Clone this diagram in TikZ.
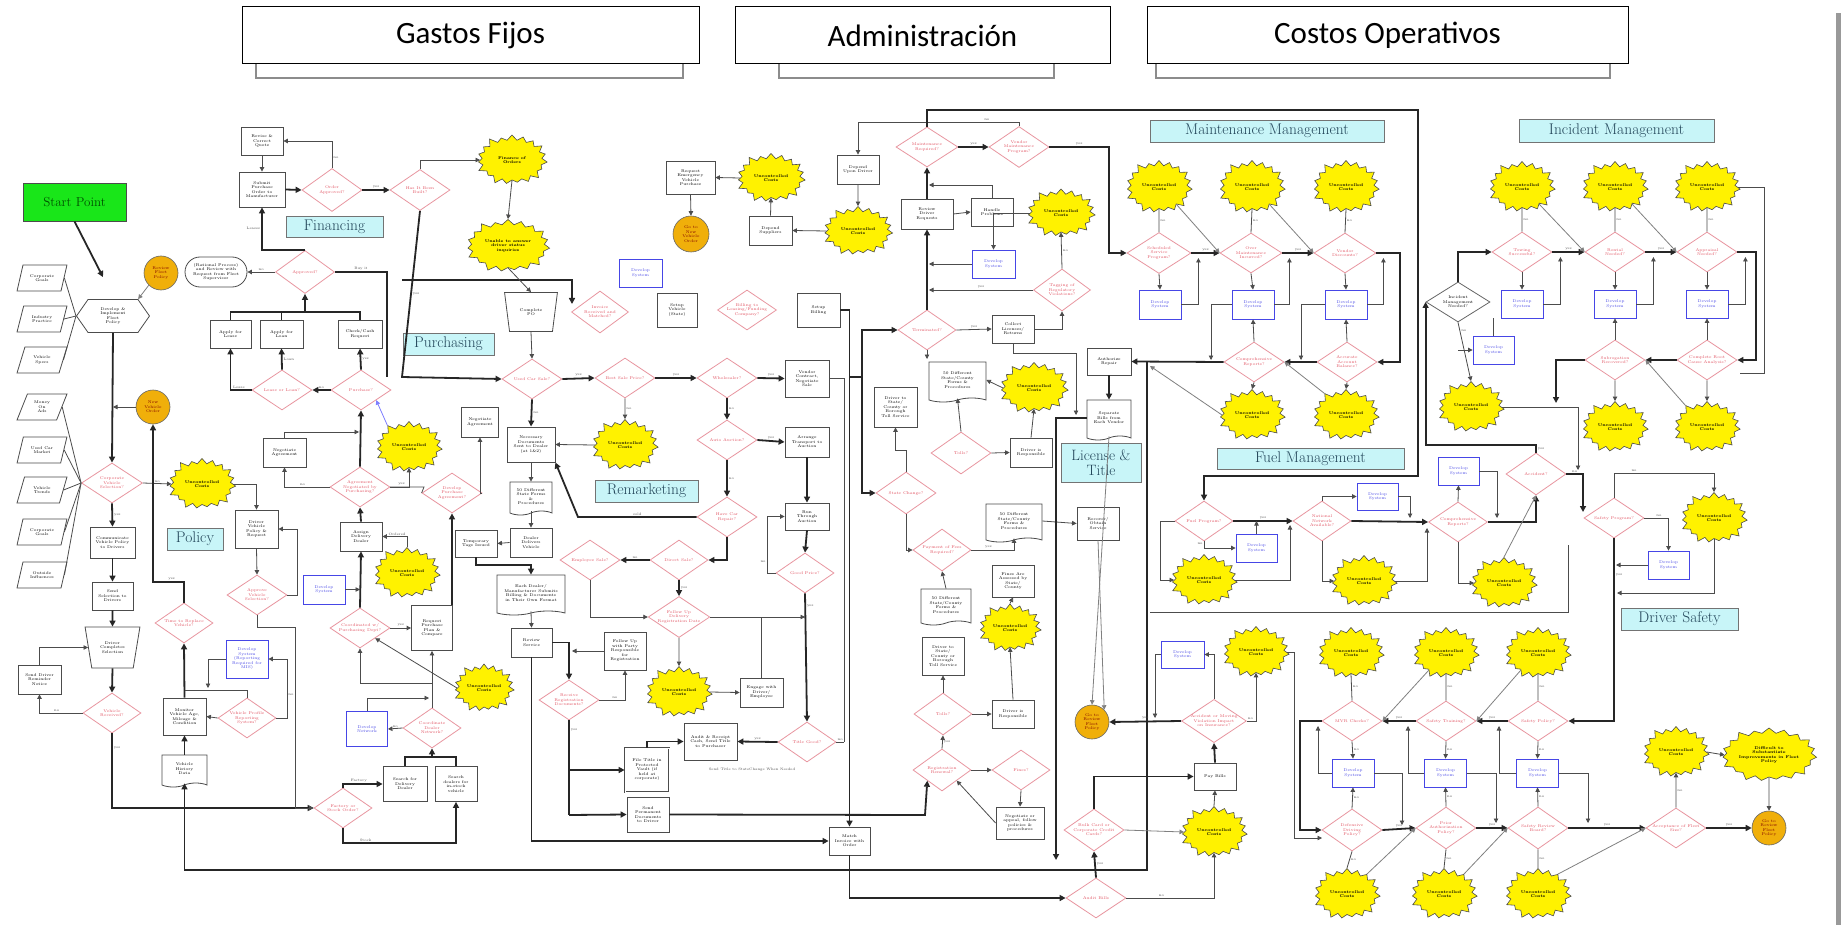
\documentclass[tikz,border=0pt]{standalone}
\usepackage{fontspec}
\newfontfamily\hdrfont{Carlito}
\usetikzlibrary{shapes.geometric,shapes.symbols,shapes.misc,arrows.meta,calc}
\definecolor{pinkline}{RGB}{232,150,160}
\definecolor{pinktext}{RGB}{225,80,95}
\definecolor{starfill}{RGB}{255,242,0}
\definecolor{orng}{RGB}{240,175,10}
\definecolor{cyanlab}{RGB}{200,245,248}
\definecolor{labtext}{RGB}{35,70,90}
\definecolor{bluebox}{RGB}{70,70,230}
\definecolor{startgreen}{RGB}{25,230,25}
\definecolor{starttext}{RGB}{0,80,0}
\tikzset{
  tf/.style={font=\fontsize{4}{4.5}\selectfont, align=center, inner sep=0.5pt},
  bx/.style 2 args={tf, rectangle, draw=black!70, line width=0.8pt, fill=white, minimum width=#1pt, minimum height=#2pt},
  bb/.style 2 args={tf, rectangle, draw=bluebox, text=bluebox, line width=0.8pt, fill=white, minimum width=#1pt, minimum height=#2pt},
  dm/.style 2 args={tf, diamond, aspect=1.5, draw=pinkline, text=pinktext, line width=0.8pt, fill=white, minimum width=#1pt, minimum height=#2pt, inner sep=0pt},
  st/.style 2 args={font=\fontsize{4}{4.5}\selectfont\bfseries, align=center, starburst, starburst points=19, starburst point height=7pt, fill=starfill, draw=black!70, line width=0.6pt, minimum width=#1pt, minimum height=#2pt, inner sep=0pt},
  oc/.style={tf, circle, fill=orng, draw=black!60, text=red!50!black, line width=0.6pt, minimum size=34pt},
  lab/.style 2 args={rectangle, fill=cyanlab, draw=black!55, line width=0.9pt, text=labtext, inner sep=0pt, font=\fontsize{15.5}{16}\selectfont, align=center, minimum width=#1pt, minimum height=#2pt},
  pg/.style={tf, trapezium, trapezium left angle=65, trapezium right angle=115, trapezium stretches=true, draw=black!70, line width=0.8pt, fill=white, minimum width=50pt, minimum height=26pt},
  dc/.style 2 args={tf, tape, tape bend top=none, tape bend height=4pt, draw=black!70, line width=0.8pt, fill=white, minimum width=#1pt, minimum height=#2pt},
  tz/.style 2 args={tf, trapezium, shape border rotate=180, trapezium stretches=true, trapezium left angle=72, trapezium right angle=72, draw=black!70, line width=0.8pt, fill=white, minimum width=#1pt, minimum height=#2pt},
  tk/.style={draw=black!85, line width=1.8pt, -{Triangle[length=6pt,width=6pt]}},
  tn/.style={draw=black!70, line width=0.8pt, -{Triangle[length=4.5pt,width=4.5pt]}},
  gl/.style={draw=black!50, line width=0.8pt, -{Triangle[length=4.5pt,width=4.5pt]}},
  ln/.style={draw=black!70, line width=0.8pt},
  tl/.style={draw=black!85, line width=1.8pt},
  lb/.style={font=\fontsize{3.5}{4}\selectfont, text=black!70, inner sep=1pt},
  hd/.style={draw=black, line width=1pt, fill=white, font=\hdrfont\fontsize{31}{33}\selectfont, minimum height=57pt},
}
\begin{document}
\begin{tikzpicture}[x=1pt,y=-1pt]
\useasboundingbox (0,0) rectangle (1847,925);
\fill[white] (0,0) rectangle (1847,925);
\fill[black!40] (1836,13) rectangle (1841,925);
% ---------- headers
\draw[black!45, line width=1.2pt] (256,50) rectangle (683,78);
\draw[black!45, line width=1.2pt] (779,50) rectangle (1054,78);
\draw[black!45, line width=1.2pt] (1156,50) rectangle (1610,78);
\node[hd, minimum width=457pt] (h1) at (470.5,35.5) {Gastos Fijos};
\node[hd, minimum width=375pt] (h2) at (922.5,35.5) {Administración};
\node[hd, minimum width=481pt] (h3) at (1387.5,35.5) {Costos Operativos};
% ---------- section labels
\node[lab={97}{21}] (lfin) at (334.5,226.5) {Financing};
\node[lab={91}{22}] (lpur) at (448.5,344) {Purchasing};
\node[lab={56}{22}] (lpol) at (195,539) {Policy};
\node[lab={103}{22}] (lrem) at (646.5,491) {Remarketing};
\node[lab={80}{39}, font=\fontsize{15}{15.5}\selectfont] (llt) at (1101,462.5) {License \&\\Title};
\node[lab={234}{22}] (lmm) at (1267,131) {Maintenance Management};
\node[lab={187}{21}] (lfm) at (1310.5,458.5) {Fuel Management};
\node[lab={195}{23}] (lim) at (1616.5,130.5) {Incident Management};
\node[lab={117}{22}] (lds) at (1679.5,619) {Driver Safety};
% ---------- left column / policy
\node[bx={103}{38}, fill=startgreen, font=\fontsize{13}{14}\selectfont, text=starttext] (start) at (74.5,202) {Start Point};
\node[pg] (p1) at (42,278) {Corporate\\Goals};
\node[pg] (p2) at (42,319) {Industry\\Practice};
\node[pg] (p3) at (42,360) {Vehicle\\Specs};
\node[pg] (p4) at (42,407) {Money\\On\\Ads};
\node[pg] (p5) at (42,450) {Used Car\\Market};
\node[pg] (p6) at (42,490) {Vehicle\\Trends};
\node[pg] (p7) at (42,532) {Corporate\\Goals};
\node[pg] (p8) at (42,575) {Outside\\Influences};
\node[tf, signal, signal to=west and east, signal pointer angle=110, draw=black!70, line width=0.8pt, fill=white, minimum width=73pt, minimum height=33pt] (hex) at (113,316) {Develop \&\\Implement\\Fleet\\Policy};
\node[oc] (rfp) at (161,273) {Review\\Fleet\\Policy};
\node[tf, rounded rectangle, draw=black!70, line width=0.8pt, fill=white, minimum width=63pt, minimum height=30pt] (rat) at (216,272) {(Rational Process)\\and Review with\\Request from Fleet\\Supervisor};
\node[dm={59}{43}] (apr) at (305,272) {Approved?};
\node[bx={42}{28}] (rcq) at (262,141) {Revise \&\\Correct\\Quote};
\node[bx={46}{35}] (spm) at (262,189.5) {Submit\\Purchase\\Order to\\Manufacturer};
\node[dm={60}{43}] (oap) at (332,190) {Order\\Approved?};
\node[dm={60}{41}] (hbb) at (420,190) {Has It Been\\Built?};
\node[st={74}{54}] (fo) at (512,160) {Finance of\\Orders};
\node[st={87}{57}] (ua) at (508,246) {Unable to answer\\driver status\\inquiries};
\node[dm={61}{40}] (cvs) at (112,483) {Corporate\\Vehicle\\Selection?};
\node[oc] (nvo) at (153,407) {New\\Vehicle\\Order};
\node[st={71}{55}] (spol) at (202,484) {Uncontrolled\\Costs};
\node[bx={45}{31}] (cvp) at (112.5,542.5) {Communicate\\Vehicle Policy\\to Drivers};
\node[bx={41}{28}] (ssd) at (112.5,596) {Send\\Selection to\\Drivers};
\node[tz={55}{41}] (dcs) at (112.5,647.5) {Driver\\Completes\\Selection};
\node[dm={58}{40}] (vrc) at (112,713) {Vehicle\\Received?};
\node[bx={43}{29}] (sdr) at (39.5,679.5) {Send Driver\\Reminder\\Notice};
\node[bx={43}{38}] (dvp) at (256.5,529) {Driver\\Vehicle\\Policy \&\\Request};
\node[dm={60}{40}] (avs) at (257,595) {Approve\\Vehicle\\Selection?};
\node[dm={58}{40}] (trv) at (184,623) {Time to Replace\\Vehicle?};
\node[bb={42}{38}] (bbr) at (247,659) {Develop\\System\\(Reporting\\Required for\\MIS)};
\node[bx={43}{37}] (mva) at (184.5,716.5) {Monitor\\Vehicle Age,\\Mileage \&\\Condition};
\node[dm={58}{40}] (vpr) at (247,718) {Vehicle Profile\\Reporting\\System?};
\node[dc={45}{32}] (vhd) at (184.5,769) {Vehicle\\History\\Data};
% ---------- purchasing
\node[bx={41}{28}] (alea) at (230.5,334) {Apply for\\Lease};
\node[bx={43}{28}] (aloa) at (281.5,334) {Apply for\\Loan};
\node[bx={44}{28}] (ccr) at (360,334) {Check/Cash\\Request};
\node[dm={60}{40}] (lol) at (282,390) {Lease or Loan?};
\node[dm={60}{40}] (pur) at (361,390) {Purchase?};
\node[bx={43}{29}] (na1) at (284.5,452.5) {Negotiate\\Agreement};
\node[dm={60}{40}] (anp) at (360,487) {Agreement\\Negotiated by\\Purchasing?};
\node[st={70}{55}] (sp1) at (409,447) {Uncontrolled\\Costs};
\node[bx={37}{30}] (na2) at (480,422) {Negotiate\\Agreement};
\node[dm={60}{40}] (dpa) at (452,493) {Develop\\Purchase\\Agreement?};
\node[bx={42}{29}] (add) at (361,536.5) {Assign\\Delivery\\Dealer};
\node[st={70}{55}] (sp2) at (407,573) {Uncontrolled\\Costs};
\node[bb={42}{29}] (dsp) at (324,589.5) {Develop\\System};
\node[dm={60}{40}] (cwp) at (360,628) {Coordinated w/\\Purchasing Dept?};
\node[bx={41}{45}] (rpp) at (432,628) {Request\\Purchase\\Plan \&\\Compare};
\node[bb={41}{35}] (dnw) at (367,729) {Develop\\Network};
\node[dm={58}{40}] (cdn) at (432,728) {Coordinate\\Dealer\\Network?};
\node[dm={58}{40}] (fso) at (343,808) {Factory or\\Stock Order?};
\node[bx={44}{35}] (sdd) at (405,784) {Search for\\Delivery\\Dealer};
\node[bx={42}{35}] (sds) at (456,784) {Search\\dealers for\\in-stock\\vehicle};
\node[st={64}{52}] (sp3) at (484,688) {Uncontrolled\\Costs};
% ---------- remarketing
\node[tz={53}{39}] (cpo) at (531,312) {Complete\\PO};
\node[dm={57}{42}] (spo) at (600,312) {Invoice\\Received and\\Matched?};
\node[bb={43}{28}] (dsa) at (640.5,273) {Develop\\System};
\node[bx={40}{34}] (vsu) at (677,310) {Setup\\Vehicle\\(State)};
\node[dm={56}{40}] (blf) at (747,310) {Billing to\\Leasing/Funding\\Company?};
\node[bx={43}{34}] (sbl) at (818.5,310) {Setup\\Billing};
\node[dm={60}{40}] (ucs) at (532,379) {Used Car Sale?};
\node[dm={60}{40}] (bsp) at (625,378) {Best Sale Price?};
\node[dm={60}{40}] (whs) at (727,378) {Wholesaler?};
\node[bx={44}{37}] (vcn) at (807,378.5) {Vendor\\Contract,\\Negotiate\\Sale};
\node[bx={48}{35}] (nds) at (531,444.5) {Necessary\\Documents\\Sent to Dealer\\(at 1\&2)};
\node[st={70}{55}] (srm) at (625,445) {Uncontrolled\\Costs};
\node[dm={60}{40}] (aac) at (727,440) {Auto Auction?};
\node[bx={44}{30}] (ata) at (807,442) {Arrange\\Transport to\\Auction};
\node[dc={42}{33}] (sfp) at (531,496.5) {50 Different\\State Forms\\\&\\Procedures};
\node[bx={42}{29}] (dod) at (531,542.5) {Dealer\\Delivers\\Vehicle};
\node[bx={42}{27}] (tti) at (476,543.5) {Temporary\\Tags Issued};
\node[dm={60}{40}] (hcr) at (727,517) {Have Car\\Repair?};
\node[bx={44}{27}] (rta) at (807,516.5) {Run\\Through\\Auction};
\node[dm={58}{40}] (gpr) at (805,573) {Good Price?};
\node[dm={60}{40}] (ems) at (590,560) {Employee Sale?};
\node[dm={58}{40}] (drs) at (679,560) {Direct Sale?};
\node[dc={68}{40}] (edb) at (531,593) {Each Dealer/\\Manufacturer Submits\\Billing \& Documents\\in Their Own Format};
\node[dm={60}{38}] (fdr) at (679,617) {Follow Up\\Delivery\\Registration Date};
\node[bx={41}{29}] (rvs) at (531.5,642.5) {Review\\Service};
\node[bx={42}{38}] (fur) at (625,651) {Follow Up\\with Party\\Responsible\\for\\Registration};
\node[dm={60}{40}] (rrd) at (569,700) {Receive\\Registration\\Documents?};
\node[st={70}{55}] (srm2) at (679,692) {Uncontrolled\\Costs};
\node[bx={43}{29}] (edr) at (761.5,692.5) {Engage with\\Driver/\\Employee};
\node[dm={58}{40}] (tgd) at (807,742) {Title Good?};
\node[bx={53}{37}] (arc) at (710.5,741.5) {Audit \& Receipt\\Cash, Send Title\\to Purchaser};
\node[bx={44}{44}, double, double distance=1pt] (ftv) at (647,770) {File Title in\\Protected\\Vault (if\\held at\\corporate)};
\node[bx={42}{35}] (spd) at (648,814.5) {Send\\Permanent\\Documents\\to Driver};
\node[bx={41}{28}] (mio) at (849.5,841) {Match\\Invoice with\\Order};
\node[lb] (stn) at (752,770) {Send Title to State\\Change When Needed};
% ---------- administration
\node[bx={49}{33}] (rev) at (690.5,177.5) {Request\\Emergency\\Vehicle\\Purchase};
\node[st={72}{53}] (sa1) at (771,178) {Uncontrolled\\Costs};
\node[oc, minimum size=36pt] (gno) at (691,234) {Go to\\New\\Vehicle\\Order};
\node[bx={43}{29}] (dsu) at (770.5,230.5) {Depend\\Suppliers};
\node[st={73}{53}] (sa2) at (858,231) {Uncontrolled\\Costs};
\node[bx={42}{29}] (hud) at (858,169.5) {Depend\\Upon Driver};
\node[dm={62}{40}] (mrq) at (927,147) {Maintenance\\Required?};
\node[dm={60}{41}] (vmp) at (1019,147) {Vendor\\Maintenance\\Program?};
\node[bx={52}{30}] (rdr) at (927,214) {Review\\Driver\\Requests};
\node[bx={42}{28}] (hpr) at (992,212) {Handle\\Problems};
\node[st={72}{52}] (sa3) at (1061,213) {Uncontrolled\\Costs};
\node[bb={43}{28}] (dsb) at (993.5,264) {Develop\\System};
\node[dm={57}{42}] (trg) at (1062,290) {Tagging of\\Regulatory\\Violations?};
\node[dm={58}{40}] (trm) at (927,330) {Terminated?};
\node[bx={42}{28}] (cll) at (1013,329) {Collect\\Licenses/\\Returns};
\node[dc={57}{40}] (ddf) at (957.5,380) {50 Different\\State/County\\Forms \&\\Procedures};
\node[st={72}{55}] (sa4) at (1034,388) {Uncontrolled\\Costs};
\node[bx={43}{40}] (dts) at (895.5,407) {Driver to\\State/\\County or\\Borough\\Toll Service};
\node[dm={60}{42}] (tol) at (961,453) {Tolls?};
\node[bx={42}{29}] (dir) at (1031,452.5) {Driver is\\Responsible};
\node[dm={60}{42}] (stc) at (906,493) {State Change?};
\node[dc={56}{38}] (ddf2) at (1014,521) {50 Different\\State/County\\Forms \&\\Procedures};
\node[bx={42}{33}] (ros) at (1098,523.5) {Recover/\\Obtain\\Service};
\node[dm={58}{42}] (pfr) at (942,550) {Payment of Fees\\Required?};
\node[bx={42}{32}] (fas) at (1013,581) {Fines Are\\Assessed by\\State/\\County};
\node[dc={50}{36}] (ddf3) at (946,605) {50 Different\\State/County\\Forms \&\\Procedures};
\node[st={66}{52}] (sa5) at (1010,628) {Uncontrolled\\Costs};
\node[bx={42}{38}] (dts2) at (943,656) {Driver to\\State/\\County or\\Borough\\Toll Service};
\node[dm={58}{42}] (tl2) at (943,714) {Tolls?};
\node[bx={42}{28}] (dir2) at (1013,714) {Driver is\\Responsible};
\node[dm={58}{42}] (rrn) at (942,770) {Registration\\Renewal?};
\node[dm={58}{40}] (fns) at (1021,770) {Fines?};
\node[bx={48}{32}] (ngp) at (1020,823) {Negotiate or\\appeal, follow\\policies \&\\procedures};
\node[bx={44}{27}] (ar) at (1109,361.5) {Authorize\\Repair};
\node[dc={44}{40}] (sbv) at (1109,418) {Separate\\Bills from\\Each Vendor};
% ---------- maintenance
\node[st={70}{57}] (sm1) at (1159,187) {Uncontrolled\\Costs};
\node[st={70}{57}] (sm2) at (1252,187) {Uncontrolled\\Costs};
\node[st={70}{57}] (sm3) at (1346,187) {Uncontrolled\\Costs};
\node[dm={64}{41}] (ssp) at (1159,253) {Scheduled\\Service\\Program?};
\node[dm={62}{40}] (omi) at (1251,253) {Over\\Maintenance\\Incurred?};
\node[dm={62}{40}] (vds) at (1345,253) {Vendor\\Discounts?};
\node[bb={42}{29}] (dm1) at (1160,304.5) {Develop\\System};
\node[bb={42}{29}] (dm2) at (1253,304.5) {Develop\\System};
\node[bb={42}{29}] (dm3) at (1346,304.5) {Develop\\System};
\node[dm={60}{40}] (mcr) at (1254,362) {Comprehensive\\Reports?};
\node[dm={60}{40}] (aab) at (1347,362) {Accurate\\Account\\Balance?};
\node[st={70}{55}] (sf1) at (1252,415) {Uncontrolled\\Costs};
\node[st={70}{55}] (sf2) at (1346,415) {Uncontrolled\\Costs};
% ---------- fuel
\node[dm={58}{40}] (fpg) at (1204,521) {Fuel Program?};
\node[bb={41}{28}] (df1) at (1256.5,548) {Develop\\System};
\node[st={70}{55}] (sf3) at (1204,580) {Uncontrolled\\Costs};
\node[dm={58}{40}] (nna) at (1322,521) {National\\Network\\Available?};
\node[bb={41}{27}] (df2) at (1377.5,496.5) {Develop\\System};
\node[st={70}{55}] (sf4) at (1364,581) {Uncontrolled\\Costs};
\node[dm={59}{40}] (cr2) at (1458,522) {Comprehensive\\Reports?};
\node[bb={41}{28}] (df3) at (1458.5,471) {Develop\\System};
\node[st={70}{55}] (sf5) at (1504,583) {Uncontrolled\\Costs};
% ---------- incident
\node[st={70}{55}] (si1) at (1522,187) {Uncontrolled\\Costs};
\node[st={70}{55}] (si2) at (1615,187) {Uncontrolled\\Costs};
\node[st={70}{55}] (si3) at (1707,187) {Uncontrolled\\Costs};
\node[dm={60}{40}] (tow) at (1522,252) {Towing\\Successful?};
\node[dm={60}{40}] (rnt) at (1615,252) {Rental\\Needed?};
\node[dm={60}{40}] (apl) at (1707,252) {Appraisal\\Needed?};
\node[bb={42}{28}] (di1) at (1522,304) {Develop\\System};
\node[bb={42}{28}] (di2) at (1615,304) {Develop\\System};
\node[bb={42}{28}] (di3) at (1707,304) {Develop\\System};
\node[tf, diamond, aspect=1.5, draw=black!60, line width=0.8pt, fill=white, minimum width=64pt, minimum height=40pt, inner sep=0pt] (imn) at (1458,302) {Incident\\Management\\Needed?};
\node[bb={41}{28}] (di4) at (1493.5,350) {Develop\\System};
\node[st={70}{55}] (si6) at (1471,407) {Uncontrolled\\Costs};
\node[dm={60}{40}] (sub) at (1615,360) {Subrogation\\Recovered?};
\node[dm={60}{40}] (rca) at (1707,360) {Complete Root\\Cause Analysis?};
\node[st={70}{55}] (si4) at (1615,427) {Uncontrolled\\Costs};
\node[st={70}{55}] (si5) at (1707,427) {Uncontrolled\\Costs};
\node[dm={60}{42}] (acc) at (1536,474) {Accident?};
% ---------- driver safety
\node[dm={60}{40}] (spg) at (1614,518) {Safety Program?};
\node[st={70}{55}] (sds1) at (1714,518) {Uncontrolled\\Costs};
\node[bb={41}{28}] (dss) at (1668.5,565) {Develop\\System};
\node[st={70}{55}] (sd0) at (1351,653) {Uncontrolled\\Costs};
\node[st={70}{55}] (sd1) at (1446,653) {Uncontrolled\\Costs};
\node[st={70}{55}] (sd2) at (1538,653) {Uncontrolled\\Costs};
\node[dm={60}{40}] (mvr) at (1352,721) {MVR Checks?};
\node[dm={60}{40}] (stt) at (1446,721) {Safety Training?};
\node[dm={60}{40}] (spy) at (1538,721) {Safety Policy?};
\node[bb={42}{28}] (dd0) at (1353,773) {Develop\\System};
\node[bb={42}{28}] (dd1) at (1445.5,773) {Develop\\System};
\node[bb={42}{28}] (dd2) at (1537.5,773) {Develop\\System};
\node[dm={60}{42}] (ddp) at (1352,830) {Defensive\\Driving\\Policy?};
\node[dm={60}{42}] (pap) at (1446,828) {Prior\\Authorization\\Policy?};
\node[dm={60}{42}] (srb) at (1538,828) {Safety Review\\Board?};
\node[st={70}{55}] (sd7) at (1347,894) {Uncontrolled\\Costs};
\node[st={70}{55}] (sd3) at (1444,894) {Uncontrolled\\Costs};
\node[st={70}{55}] (sd4) at (1538,894) {Uncontrolled\\Costs};
\node[dm={60}{40}] (afs) at (1676,828) {Acceptance of Fleet\\Size?};
\node[st={70}{55}] (sd5) at (1676,752) {Uncontrolled\\Costs};
\node[st={95}{58}] (sd6) at (1769,755) {Difficult to\\Substantiate\\Improvements in Fleet\\Policy};
\node[oc] (gtr) at (1769,828) {Go to\\Review\\Fleet\\Policy};
% ---------- bills
\node[bb={43}{27}] (dsx) at (1182.5,654.5) {Develop\\System};
\node[st={70}{55}] (sx1) at (1256,652) {Uncontrolled\\Costs};
\node[dm={62}{42}] (amv) at (1214,721) {Accident or Moving\\Violation Impact\\on Insurance?};
\node[oc] (gtr2) at (1092,722) {Go to\\Review\\Fleet\\Policy};
\node[bx={42}{27}] (pbl) at (1215,776.5) {Pay Bills};
\node[st={70}{55}] (sx2) at (1214,832) {Uncontrolled\\Costs};
\node[dm={60}{42}] (bcc) at (1094,830) {Bulk Card or\\Corporate Credit\\Cards?};
\node[dm={60}{40}] (abl) at (1096,898) {Audit Bills};

% ================= connectors
% left
\draw[tk] (start.south) -- ($(hex.north)+(-10,-22)$);
\draw[gl] (rfp.south west) -- (hex.north east);
\foreach \p in {p1,p2,p3} \draw[ln] (\p.east) -- (hex.west);
\foreach \p in {p4,p5,p6,p7,p8} \draw[ln] (\p.east) -- (cvs.west);
\draw[tk] (hex.south) -- (cvs.north);
\draw[tn] (nvo.west) -- (hex.south |- nvo.west);
\draw[tn] (cvs.east) -- node[lb,above]{no} (spol.west);
\draw[tk] (cvs.south) -- node[lb,right]{yes} (cvp.north);
\draw[tk] (cvp.south) -- (ssd.north);
\draw[tk] (ssd.south) -- (dcs.north);
\draw[tk] (dcs.south) -- (vrc.north);
\draw[tn] (vrc.west) -| node[lb,pos=0.3,above]{no} (sdr.south);
\draw[tn] (sdr.north) |- (dcs.west);
\draw[tk] (vrc.south) |- node[lb,pos=0.1,right]{yes} (fso.west);
\draw[tn] (spol.east) -| (dvp.north);
\draw[tn] (dvp.south) -- (avs.north);
\draw[tn] (avs.east) -- (297,595) |- (dvp.east);
\draw[tn] (avs.south) -- (257,627) -- (295,627) |- (fso.west);
\draw[tk] (mva.north) -- (trv.south);
\draw[tk] (vhd.north) -- (mva.south);
\draw[tk] (trv.north) -- (184,582) -| node[lb,pos=0.2,above]{yes} (nvo.south);
\draw[tn] (vpr.west) -- (mva.east);
\draw[tn] (vpr.east) -- (287,718) |- node[lb,pos=0.2,right]{no} (bbr.east);
\draw[tn] (bbr.west) -- (208,659) -- (208,688);
\draw[ln] (vpr.north) |- (185,690);
% approvals / financing
\draw[tn] (apr.west) -- node[lb,above]{no} (rat.east);
\draw[tk] (apr.north) -| node[lb,pos=0.75,left]{Leases} (spm.south);
\draw[tl] (apr.east) -- node[lb,above]{Buy it} (387,272) -- (387,377);
\draw[tk] (hbb.south) -- node[lb,right]{yes} (402,377) -- (ucs.west);
\draw[tk] (402,280) -| (572,304);
\draw[tk] (spm.east) -- (oap.west);
\draw[tn] (oap.north) |- node[lb,pos=0.2,right]{no} (rcq.east);
\draw[tn] (rcq.south) -- (spm.north);
\draw[tk] (oap.east) -- node[lb,above]{yes} (hbb.west);
\draw[tn] (hbb.north) |- (fo.west);
\draw[tn] (fo.south) -- (ua.north);
\draw[tn] (ua.south) -- (cpo.north);
% purchasing
\draw[tk] (pur.west) -- node[lb,above]{no} (lol.east);
\draw[tk] (pur.north) -- node[lb,right]{yes} (ccr.south);
\draw[tk] (lol.north) -- node[lb,right]{Loan} (aloa.south);
\draw[tk] (lol.west) -| node[lb,pos=0.3,above]{Lease} (alea.south);
\draw[tl] (alea.north) -- (230.5,312) -- (360,312) -- (ccr.north);
\draw[tl] (aloa.north) -- (281.5,312);
\draw[tk] (305,312) -- (apr.south);
\draw[tk] (anp.north) -- (pur.south);
\draw[tn] (na1.north) |- (359,432);
\draw[tn] (anp.west) -| node[lb,pos=0.3,above]{no} (na1.south);
\draw[tn] (anp.east) -| node[lb,pos=0.3,above]{yes} (sp1.south);
\draw[gl, draw=blue!50] (sp1.north west) -- (pur.south east);
\draw[tk] (add.north) -- (anp.south);
\draw[tn] (sp2.north) |- node[lb,pos=0.7,above]{Ordered} (add.east);
\draw[tn] (dsp.east) -- (cwp.north |- dsp.east);
\draw[tk] (cwp.north) -- (add.south);
\draw[tn] (dpa.east) -| (na2.south);
\draw[ln] (dpa.west) -- (424,487) -- (390,487);
\draw[tk] (rpp.north -| dpa.south) -- (dpa.south);
\draw[tn] (cwp.east) -- node[lb,above]{yes} (rpp.west);
\draw[tn] (cdn.north) -- (rpp.south);
\draw[tn] (432,683) -| (cwp.south);
\draw[tn] (sp3.west) -- (cwp.south east);
\draw[tn] (cdn.west) -- node[lb,above]{no} (dnw.east);
\draw[tn] (dnw.north) |- (429,698);
\draw[tk] (fso.north) |- node[lb,pos=0.7,above]{Factory} (sdd.west);
\draw[tk] (fso.south) -- (343,843) -| node[lb,pos=0.1,above]{Stock} (sds.south);
\draw[tl] (sdd.north) -- (405,757) -- (456,757) -- (sds.north);
\draw[tk] (432,757) -- (cdn.south);
% remarketing
\draw[tn] (cpo.south) -- (ucs.north);
\draw[tk] (ucs.east) -- node[lb,above]{yes} (bsp.west);
\draw[tk] (ucs.south) -- node[lb,right]{no} (nds.north);
\draw[tk] (bsp.east) -- node[lb,above]{yes} (whs.west);
\draw[tn] (bsp.south) -- node[lb,right]{no} (srm.north);
\draw[tn] (srm.west) -- (nds.east);
\draw[tk] (whs.east) -- node[lb,above]{yes} (vcn.west);
\draw[tk] (whs.south) -- node[lb,right]{no} (aac.north);
\draw[tk] (aac.east) -- node[lb,above]{yes} (ata.west);
\draw[tk] (ata.south) -- (rta.north);
\draw[tk] (rta.south) -- (gpr.north);
\draw[tn] (gpr.west) -- (767,573) |- node[lb,pos=0.1,left]{no} (rta.west);
\draw[tk] (aac.south) -- node[lb,right]{no} (hcr.north);
\draw[tk] (hcr.west) -- node[lb,above]{sold} (578,517) -- (nds.south east);
\draw[tk] (hcr.south) |- (drs.east);
\draw[tk] (drs.west) -- node[lb,above]{no} (ems.east);
\draw[tk] (drs.south) -- node[lb,right]{yes} (fdr.north);
\draw[tn] (ems.south) |- (fdr.west);
\draw[tn] (fdr.south) -- (srm2.north);
\draw[tn] (srm2.east) -- (edr.west);
\draw[ln] (edr.north) -- (edr.north |- fdr.east);
\draw[tn] (fdr.east) -- (gpr.south |- fdr.east);
\draw[tk] (gpr.south) -- node[lb,pos=0.1,right]{yes} (tgd.north);
\draw[tk] (tgd.west) -- node[lb,above]{yes} (arc.east);
\draw[ln] (tgd.east) -- node[lb,above]{no} (844,742);
\draw[tk] (sbl.east) -| (mio.north);
\draw[ln] (vcn.east) -| (844,742);
\draw[tn] (nds.south) -- (sfp.north);
\draw[tn] (sfp.south) -- (dod.north);
\draw[tn] (dod.west) -- (tti.east);
\draw[tk] (tti.south) -- (476,565) -| (edb.north);
\draw[tn] (edb.south) -- (rvs.north);
\draw[tk] (rvs.east) -| (rrd.north);
\draw[tn] (fur.west) -- (572,651);
\draw[tn] (rrd.east) -| node[lb,pos=0.3,above]{no} (fur.south);
\draw[tl] (rrd.south) -- node[lb,pos=0.1,right]{yes} (569,815);
\draw[tk] (569,770) -- (ftv.west);
\draw[tk] (569,815) -- (spd.west);
\draw[tk] (ftv.north) |- (arc.west);
\draw[tk] (rvs.south) |- (mio.west);
\draw[tk] (spd.east) -- (925,815) -- (rrn.south west);
\draw[tk] (mio.south) |- (abl.west);
% administration
\draw[tn] (sa1.west) -- (rev.east);
\draw[tn] (rev.south) -- (gno.north);
\draw[tn] (dsu.north) -- (sa1.south);
\draw[tn] (sa2.west) -- (dsu.east);
\draw[tn] (hud.south) -- (sa2.north);
\draw[tn] (vmp.north) -- (1019,122) -| node[lb,pos=0.1,above]{no} (hud.north);
\draw[tk] (mrq.east) -- node[lb,above]{yes} (vmp.west);
\draw[tk] (mrq.north) |- (1418,110) -- (1418,476) -| (fpg.north);
\draw[tk] (rdr.north) -- (mrq.south);
\draw[tn] (rdr.east) -- (hpr.west);
\draw[tn] (hpr.north) |- (929,185);
\draw[tn] (sa3.west) -| (dsb.north);
\draw[tn] (dsb.west) -- (929,264);
\draw[tn] (trg.west) -- node[lb,above]{yes} (929,290);
\draw[tn] (trg.north) -- node[lb,right]{no} (sa3.south);
\draw[tk] (trm.north) -- (rdr.south);
\draw[tn] (trm.east) -- node[lb,above]{yes} (cll.west);
\draw[tn] (cll.east) -| (trg.south);
\draw[tn] (cll.south) |- (1076,353) -- (1076,415);
\draw[tn] (sa4.west) -- (ddf.east);
\draw[tn] (dir.north) -- (sa4.south);
\draw[tn] (tol.east) -- (dir.west);
\draw[tn] (trm.south) -- (927,359);
\draw[tn] (tol.north) -- (ddf.south);
\draw[tn] (stc.north) -- (906,450) -| (dts.south);
\draw[tk] (850,377) -- (862,377) |- (trm.west);
\draw[tk] (862,377) |- (stc.west);
\draw[tn] (ddf2.east) -- (ros.west);
\draw[tn] (pfr.east) -| node[lb,pos=0.2,above]{yes} (ddf2.south);
\draw[tn] (stc.south) |- (pfr.west);
\draw[tn] (ddf3.north) -- (pfr.south);
\draw[tn] (sa5.north) -- (fas.south);
\draw[tn] (dir2.north) -- (sa5.south);
\draw[tn] (tl2.east) -- (dir2.west);
\draw[tn] (tl2.north) -- (dts2.south);
\draw[tn] (rrn.north) -- node[lb,right]{yes} (tl2.south);
\draw[tn] (rrn.east) -- (fns.west);
\draw[tn] (fns.south) -- (ngp.north);
\draw[tn] (ngp.west) -- (rrn.south east);
\draw[tk] (ar.south) -- (sbv.north);
\draw[tk] (sbv.west) -- (1056,418) -- (1056,860);
\draw[tk] (1147,361.5) -- (1147,870) -| (vhd.south);
% maintenance
\draw[tk] (vmp.east) -- node[lb,above]{yes} (1109,147) |- (ssp.west);
\foreach \d/\s in {ssp/sm1,omi/sm2,vds/sm3} \draw[ln] (\d.north) -- node[lb,right]{no} (\s.south);
\foreach \d/\b in {ssp/dm1,omi/dm2,vds/dm3} \draw[tn] (\d.south) -- (\b.north);
\draw[tk] (ssp.east) -- node[lb,above]{yes} (omi.west);
\draw[tk] (omi.east) -- node[lb,above]{yes} (vds.west);
\draw[gl] (sm1.south east) -- (omi.west);
\draw[gl] (sm2.south east) -- (vds.west);
\draw[tn] (dm1.east) -| ($(ssp.east)+(7,5)$);
\draw[tn] (dm2.east) -| ($(omi.east)+(7,5)$);
\draw[tn] (dm3.east) -| ($(vds.east)+(7,5)$);
\draw[tk] (vds.east) -- (1400,253) -- (1400,362) -- (aab.east);
\draw[tk] (aab.west) -- (mcr.east);
\draw[tk] (mcr.west) -- (ar.east);
\draw[tn] (mcr.north) -- (dm2.south);
\draw[tn] (aab.north) -- (dm3.south);
\draw[tn] (mcr.south) -- (sf1.north);
\draw[tn] (aab.south) -- (sf2.north);
\draw[gl] (sf2.north west) -- (mcr.east);
\draw[gl] (sf1.west) -- (1150,366);
\draw[tn] (dm2.west) -- (1211,304.5) -- (1211,360);
\draw[tn] (dm3.west) -- (1301,304.5) -- (1301,360);
% fuel
\draw[tk] (fpg.east) -- node[lb,above]{yes} (nna.west);
\draw[tn] (fpg.south) |- node[lb,pos=0.2,left]{no} (df1.west);
\draw[tn] (df1.north) -- (df1.north |- fpg.east);
\draw[tn] (fpg.west) -- (1160,521) |- (sf3.west);
\draw[tn] (sf3.east) -- (1290,580) -- (1290,525);
\draw[tn] (nna.north) |- (df2.west);
\draw[tn] (df2.east) -- (1410,496.5) -- (1410,518);
\draw[tk] (nna.east) -- (cr2.west);
\draw[tn] (nna.south) |- (sf4.west);
\draw[tn] (sf4.east) -- (1427,581) -- (1427,528);
\draw[tn] (cr2.north) -- (df3.south);
\draw[tn] (df3.east) -- (1497,471) -- (1497,518);
\draw[tn] (cr2.south) |- (sf5.west);
\draw[tk] (cr2.east) -| (acc.south);
\draw[gl] (sf5.north) -- (acc.south);
\draw[ln] (1150,612) -- (1568,612) -- (1568,545);
% incident
\draw[tk] (acc.north) -- node[lb,right]{yes} (1536,445) -| (imn.west);
\draw[tk] (imn.north) |- (tow.west);
\draw[tk] (tow.east) -- node[lb,above]{yes} (rnt.west);
\draw[tk] (rnt.east) -- node[lb,above]{yes} (apl.west);
\foreach \d/\s in {tow/si1,rnt/si2,apl/si3} \draw[ln] (\d.north) -- node[lb,right]{no} (\s.south);
\foreach \d/\b in {tow/di1,rnt/di2,apl/di3} \draw[tn] (\d.south) -- (\b.north);
\draw[gl] (si1.south east) -- (rnt.west);
\draw[gl] (si2.south east) -- (apl.west);
\draw[tn] (di1.east) -| ($(tow.east)+(8,5)$);
\draw[tn] (di2.east) -| ($(rnt.east)+(8,5)$);
\draw[tn] (di3.east) -| ($(apl.east)+(8,5)$);
\draw[tk] (apl.east) -- (1756,252) |- (rca.east);
\draw[ln] (si3.east) -- (1764,187) -- (1764,373) -- (1740,373);
\draw[tk] (rca.west) -- (sub.east);
\draw[tk] (sub.west) -- (1556,360) -- (1556,403);
\draw[tn] (sub.north) -- (di2.south);
\draw[tn] (rca.north) -- (di3.south);
\draw[tn] (sub.south) -- (si4.north);
\draw[tn] (rca.south) -- (si5.north);
\draw[gl] (si5.north west) -- (sub.east);
\draw[tn] (imn.south) -- node[lb,right,pos=0.15]{no} (si6.north);
\draw[tn] (imn.south |- di4.west) -- (di4.west);
\draw[ln] (di4.north) -- (1493.5,318);
\draw[tn] (si6.east) -- (1578,407) -- (1578,470);
\draw[tk] (acc.east) -- node[lb,above]{no} (1583,474) -- (1583,512);
% driver safety
\draw[tn] (spg.north) -- (1614,473) -| node[lb,pos=0.1,above]{no} (sds1.north);
\draw[tn] (spg.east) -| node[lb,pos=0.3,above]{no} (dss.north);
\draw[tn] (dss.west) -- (1616,565);
\draw[tn] (sds1.south) |- (1617,593);
\draw[tk] (spg.south) -- node[lb,pos=0.2,right]{yes} (1614,721) -- (spy.east);
\draw[tk] (spy.west) -- node[lb,above]{yes} (stt.east);
\draw[tk] (stt.west) -- node[lb,above]{yes} (mvr.east);
\draw[tk] (mvr.west) -- (1300,721) |- (ddp.west);
\draw[tk] (ddp.east) -- node[lb,above]{yes} (pap.west);
\draw[tk] (pap.east) -- node[lb,above]{yes} (srb.west);
\draw[tk] (srb.east) -- node[lb,above]{yes} (afs.west);
\draw[tk] (afs.east) -- node[lb,above]{yes} (gtr.west);
\draw[tn] (afs.north) -- node[lb,right]{no} (sd5.south);
\draw[tn] (sd5.east) -- (sd6.west);
\draw[tn] (sd6.south) -- (gtr.north);
\foreach \d/\s in {mvr/sd0,stt/sd1,spy/sd2} \draw[ln] (\d.north) -- node[lb,right]{no} (\s.south);
\foreach \d/\b in {mvr/dd0,stt/dd1,spy/dd2} \draw[tn] (\d.south) -- node[lb,right]{no} (\b.north);
\foreach \d/\b in {ddp/dd0,pap/dd1,srb/dd2} \draw[tn] (\d.north) -- node[lb,right]{no} (\b.south);
\foreach \d/\s in {ddp/sd7,pap/sd3,srb/sd4} \draw[ln] (\d.south) -- node[lb,right]{no} (\s.north);
\draw[gl] (sd1.south west) -- (mvr.east);
\draw[gl] (sd2.south west) -- (stt.east);
\draw[gl] (sd3.north east) -- (srb.west);
\draw[gl] (sd4.north east) -- (afs.west);
\draw[gl] (sd7.north east) -- (pap.west);
\draw[tn] (dd2.west) -| (1499,726);
\draw[tn] (dd1.west) -| (1408,726);
\draw[tn] (dd2.east) -| (1588,823);
\draw[tn] (dd1.east) -| (1496,823);
\draw[tn] (dd0.west) -| (1318,726);
\draw[tn] (dd0.east) -| (1402,825);
% bills
\draw[tk] (abl.north) -- node[lb,right]{yes} (bcc.south);
\draw[tn] (abl.east) -| node[lb,pos=0.2,above]{no} (sx2.south);
\draw[tk] (bcc.north) |- (pbl.west);
\draw[gl] (bcc.east) -- (sx2.west);
\draw[tn] (sx2.north) -- (pbl.south);
\draw[tk] (pbl.north) -- (amv.south);
\draw[tk] (amv.west) -- node[lb,above]{yes} (gtr2.east);
\draw[tn] (amv.east) -| node[lb,pos=0.2,above]{no} (sx1.south);
\draw[tn] (amv.north) |- (dsx.east);
\draw[tn] (dsx.west) -| (1155,718);
\draw[tn] (sx1.east) -- (1294,652) -- (1294,838) -- (1322,838);
\draw[gl] (sbv.south) -- (gtr2.north);
\draw[gl] (ros.south) -- (gtr2.north east);
\end{tikzpicture}
\end{document}
